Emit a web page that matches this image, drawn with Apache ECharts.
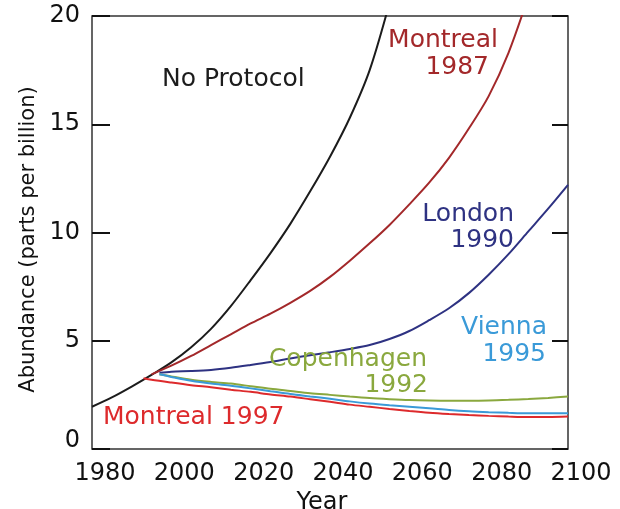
<!DOCTYPE html>
<html><head><meta charset="utf-8">
<script src="https://cdn.jsdelivr.net/npm/echarts@6/dist/echarts.min.js"></script>
<style>html,body{margin:0;padding:0;background:#fff}#c{width:620px;height:509px}</style>
</head><body><div id="c"></div>
<script>
// ---- data (year, abundance ppb) ----
const xTicks = [1980, 2000, 2020, 2040, 2060, 2080, 2100];
const yTicks = [0, 5, 10, 15, 20];

const noProtocolYears = [1980,1985,1990,1995,2000,2005,2010,2015,2020,2025,2030,2035,2040,2045,2050,2055];
const noProtocolVals  = [1.95,2.38,2.88,3.42,4.0,4.7,5.55,6.6,7.8,9.05,10.4,11.9,13.5,15.3,17.5,20.6];

const montreal1987Years = [1995,2000,2005,2010,2015,2020,2025,2030,2035,2040,2045,2050,2055,2060,2065,2070,2075,2080,2085,2090];
const montreal1987Vals  = [3.45,3.85,4.3,4.8,5.3,5.8,6.25,6.75,7.3,7.95,8.7,9.5,10.35,11.3,12.3,13.45,14.8,16.3,18.3,20.9];

const london1990Years = [1997,2000,2005,2010,2015,2020,2025,2030,2035,2040,2045,2050,2055,2060,2065,2070,2075,2080,2085,2090,2095,2100];
const london1990Vals  = [3.52,3.57,3.6,3.65,3.75,3.88,4.02,4.18,4.33,4.47,4.62,4.8,5.08,5.45,5.95,6.5,7.2,8.05,9.0,10.05,11.1,12.2];

const copenhagen1992Years = [1997,2000,2005,2010,2015,2020,2025,2030,2035,2040,2045,2050,2055,2060,2065,2070,2075,2080,2085,2090,2095,2100];
const copenhagen1992Vals  = [3.45,3.35,3.2,3.1,3.02,2.9,2.78,2.68,2.58,2.5,2.42,2.35,2.3,2.26,2.24,2.23,2.23,2.24,2.27,2.31,2.36,2.42];

const vienna1995Years = [1997,2000,2005,2010,2015,2020,2025,2030,2035,2040,2045,2050,2055,2060,2065,2070,2075,2080,2085,2090,2095,2100];
const vienna1995Vals  = [3.45,3.33,3.15,3.02,2.92,2.8,2.67,2.54,2.43,2.32,2.2,2.1,2.02,1.95,1.88,1.8,1.74,1.7,1.67,1.65,1.65,1.65];

const montreal1997Years = [1993,1995,2000,2005,2010,2015,2020,2025,2030,2035,2040,2045,2050,2055,2060,2065,2070,2075,2080,2085,2090,2095,2100];
const montreal1997Vals  = [3.27,3.2,3.07,2.95,2.85,2.74,2.64,2.52,2.42,2.3,2.18,2.05,1.95,1.85,1.76,1.68,1.62,1.57,1.53,1.5,1.48,1.48,1.5];

// ---- build ----
const FONT = '"DejaVu Sans", sans-serif';
const TXT = '#111';
function pairs(xs, ys){ return xs.map((x,i)=>[x, ys[i]]); }
function line(name, xs, ys, color){
  return {name, type:'line', data:pairs(xs,ys), showSymbol:false, smooth:0.3,
    lineStyle:{color, width:2}, itemStyle:{color}, animation:false, z:3};
}
const chart = echarts.init(document.getElementById('c'), null, {renderer:'canvas'});
const annFont = '25px ' + FONT;
function ann(text, x, y, color, align){
  return {type:'text', x, y, z:10, style:{text, fill:color, font:annFont, align:align||'left', verticalAlign:'top'}};
}
chart.setOption({
  backgroundColor:'#fff',
  animation:false,
  grid:{left:92, right:52, top:16, bottom:60, containLabel:false, outerBoundsMode:'none',
    show:true, borderColor:'#333', borderWidth:1.5, backgroundColor:'transparent'},
  xAxis:{type:'value', min:xTicks[0], max:xTicks[xTicks.length-1], interval:20,
    axisLine:{show:false}, axisTick:{show:false}, splitLine:{show:false},
    axisLabel:{fontFamily:FONT, fontSize:24, color:TXT, margin:13, padding:[0,0,0,26],
      formatter:function(v){ return String(v); },
      showMinLabel:true, showMaxLabel:true},
    name:'Year', nameLocation:'middle', nameGap:40,
    nameTextStyle:{fontFamily:FONT, fontSize:24, color:TXT, padding:[0,16,0,0]}},
  yAxis:[{type:'value', min:0, max:20, interval:5, position:'left',
    axisLine:{show:false}, splitLine:{show:false},
    axisTick:{show:true, inside:true, length:18, lineStyle:{color:TXT, width:2}},
    axisLabel:{fontFamily:FONT, fontSize:24, color:TXT, margin:12,
      formatter:function(v){ return v===0 ? '{z|0}' : String(v); },
      rich:{z:{fontFamily:FONT, fontSize:24, color:TXT, padding:[0,0,16,0]}}},
    name:'Abundance (parts per billion)', nameLocation:'middle', nameGap:47, nameRotate:90,
    nameTextStyle:{fontFamily:FONT, fontSize:21, color:TXT, padding:[0,14,0,0]}},
   {type:'value', min:0, max:20, interval:5, position:'right',
    axisLine:{show:false}, splitLine:{show:false}, axisLabel:{show:false},
    axisTick:{show:true, inside:true, length:16, lineStyle:{color:TXT, width:2}}}],
  series:[
    line('No Protocol', noProtocolYears, noProtocolVals, '#1c1c1c'),
    line('Montreal 1987', montreal1987Years, montreal1987Vals, '#a3282a'),
    line('London 1990', london1990Years, london1990Vals, '#2e3282'),
    line('Copenhagen 1992', copenhagen1992Years, copenhagen1992Vals, '#8aa83e'),
    line('Vienna 1995', vienna1995Years, vienna1995Vals, '#3a9ad8'),
    line('Montreal 1997', montreal1997Years, montreal1997Vals, '#dd2a2c')
  ],
  graphic:[
    ann('No Protocol', 162, 67, '#1c1c1c'),
    ann('Montreal', 498, 28, '#a3282a', 'right'),
    ann('1987', 489, 55, '#a3282a', 'right'),
    ann('London', 514, 202, '#2e3282', 'right'),
    ann('1990', 514, 228, '#2e3282', 'right'),
    ann('Vienna', 547, 315, '#3a9ad8', 'right'),
    ann('1995', 546, 342, '#3a9ad8', 'right'),
    ann('Copenhagen', 427, 347, '#8aa83e', 'right'),
    ann('1992', 428, 373, '#8aa83e', 'right'),
    ann('Montreal 1997', 103, 405, '#dd2a2c')
  ]
});
</script></body></html>
